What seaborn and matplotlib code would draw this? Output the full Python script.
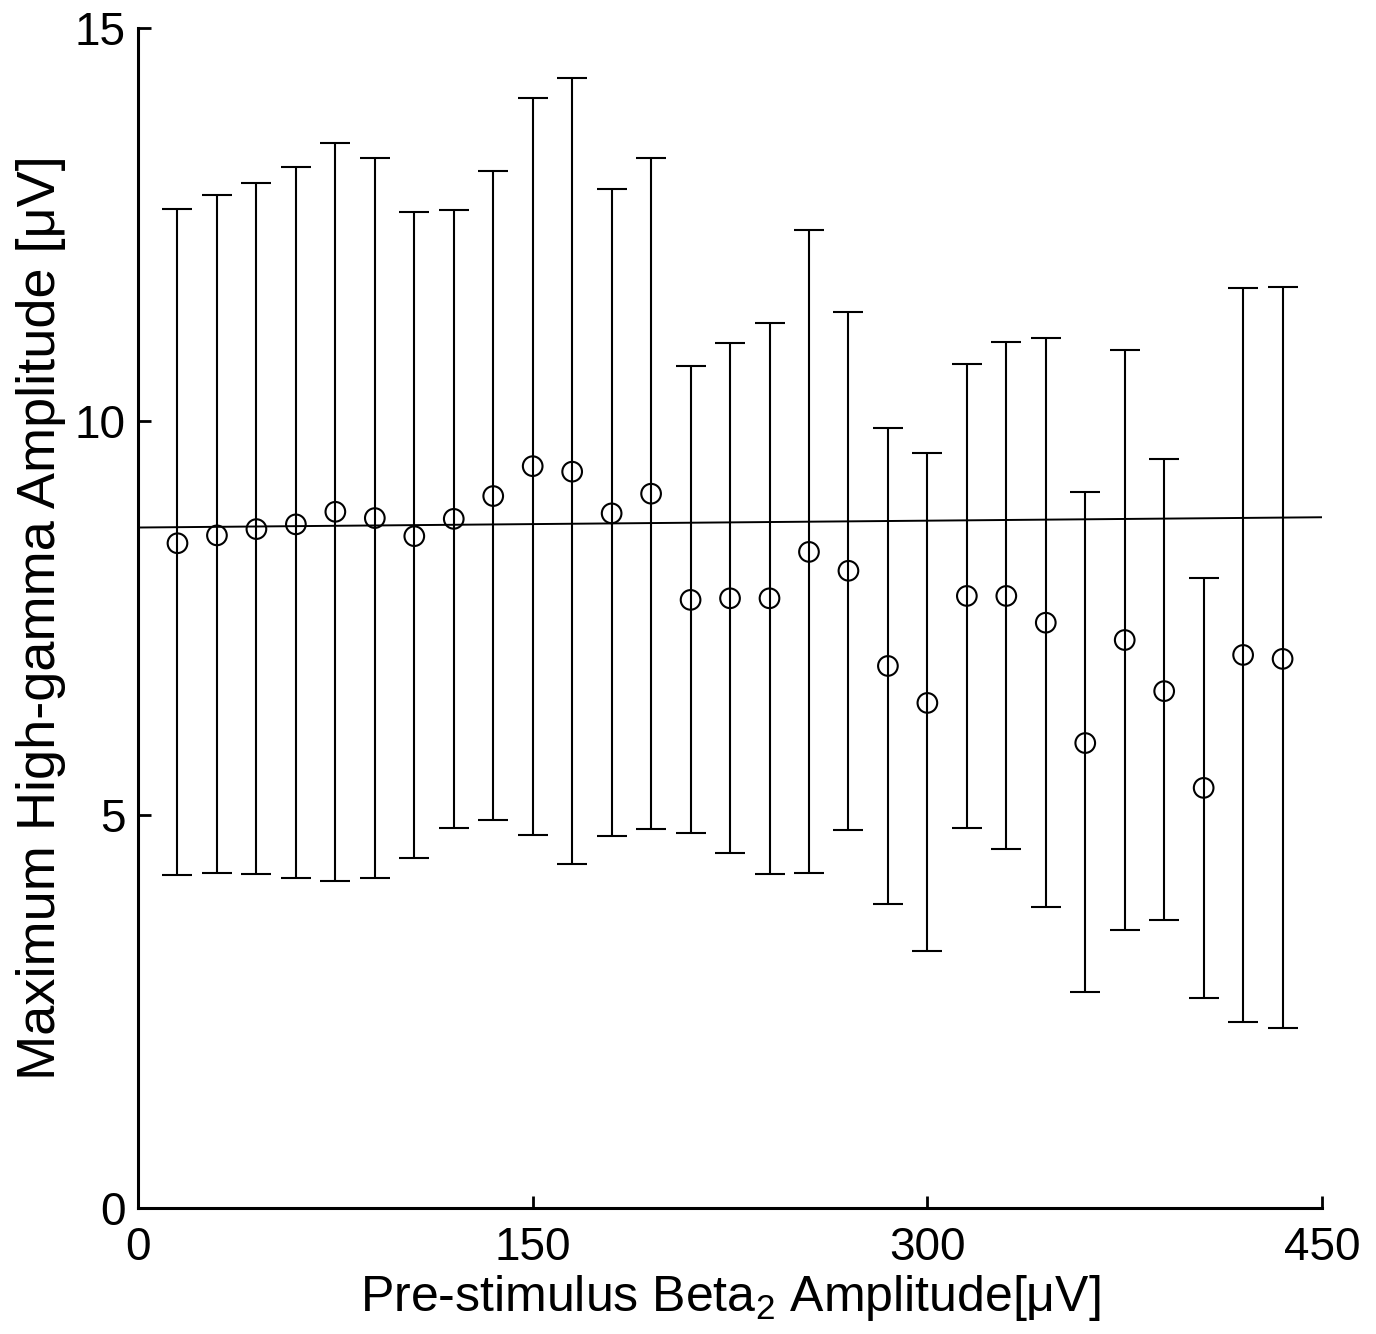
import numpy as np
import pandas as pd
import matplotlib
matplotlib.use("Agg")
import matplotlib.pyplot as plt
import seaborn as sns

# ---- data ----
beta_amp = [15, 30, 45, 60, 75, 90, 105, 120, 135, 150, 165, 180, 195, 210, 225,
            240, 255, 270, 285, 300, 315, 330, 345, 360, 375, 390, 405, 420, 435]
mean_hg = [8.45, 8.55, 8.63, 8.69, 8.85, 8.77, 8.54, 8.76, 9.05, 9.43, 9.36, 8.83, 9.08, 7.73, 7.75,
           7.75, 8.34, 8.10, 6.89, 6.42, 7.78, 7.78, 7.44, 5.91, 7.22, 6.57, 5.34, 7.03, 6.98]
upper_hg = [12.70, 12.88, 13.03, 13.23, 13.54, 13.35, 12.66, 12.69, 13.18, 14.11, 14.36, 12.95, 13.35, 10.70, 11.00,
            11.25, 12.43, 11.39, 9.91, 9.60, 10.73, 11.01, 11.06, 9.10, 10.91, 9.52, 8.01, 11.69, 11.71]
lower_hg = [4.23, 4.26, 4.25, 4.19, 4.16, 4.19, 4.45, 4.83, 4.93, 4.74, 4.37, 4.73, 4.82, 4.77, 4.51,
            4.25, 4.26, 4.80, 3.86, 3.27, 4.83, 4.56, 3.83, 2.75, 3.53, 3.66, 2.67, 2.36, 2.29]
fit_intercept = 8.65
fit_slope = 0.00029
x_ticks = [0, 150, 300, 450]
y_ticks = [0, 5, 10, 15]

df = pd.DataFrame({"x": beta_amp, "m": mean_hg, "hi": upper_hg, "lo": lower_hg})

sns.set_theme(style="ticks")
plt.rcParams["font.family"] = ["Liberation Sans", "DejaVu Sans"]
plt.rcParams["mathtext.fontset"] = "custom"
plt.rcParams["mathtext.rm"] = "Liberation Sans"
plt.rcParams["mathtext.it"] = "Liberation Sans:italic"
plt.rcParams["text.color"] = "black"
plt.rcParams["axes.labelcolor"] = "black"

fig = plt.figure(figsize=(13.76, 13.34), dpi=100)
ax = fig.add_axes([0.1003, 0.0945, 0.8605, 0.8845])

ax.errorbar(df["x"], df["m"],
            yerr=[df["m"] - df["lo"], df["hi"] - df["m"]],
            fmt="none", ecolor="black", elinewidth=1.5, capsize=11, capthick=1.5, zorder=2)

xfit = np.array([x_ticks[0], x_ticks[-1]], dtype=float)
fit_df = pd.DataFrame({"x": xfit, "y": fit_intercept + fit_slope * xfit})
sns.lineplot(data=fit_df, x="x", y="y", ax=ax, color="black", linewidth=1.4, zorder=3)

sns.scatterplot(data=df, x="x", y="m", ax=ax, marker="o", s=200,
                facecolors="none", edgecolor="black", linewidth=1.5, zorder=4)

ax.set_xlim(x_ticks[0], x_ticks[-1])
ax.set_ylim(y_ticks[0], y_ticks[-1])
ax.set_xticks(x_ticks)
ax.set_yticks(y_ticks)
ax.tick_params(direction="in", length=9, width=2, labelsize=33, colors="black")
ax.tick_params(axis="x", pad=13)
ax.tick_params(axis="y", pad=9)
for s in ["top", "right"]:
    ax.spines[s].set_visible(False)
for s in ["left", "bottom"]:
    ax.spines[s].set_linewidth(2.2)
    ax.spines[s].set_color("black")

ax.set_xlabel("Pre-stimulus Beta$_2$ Amplitude[μV]", fontsize=36, labelpad=2)
ax.set_ylabel("Maximum High-gamma Amplitude [μV]", fontsize=39, labelpad=6)

fig.savefig("out.png", dpi=100, facecolor="white")
